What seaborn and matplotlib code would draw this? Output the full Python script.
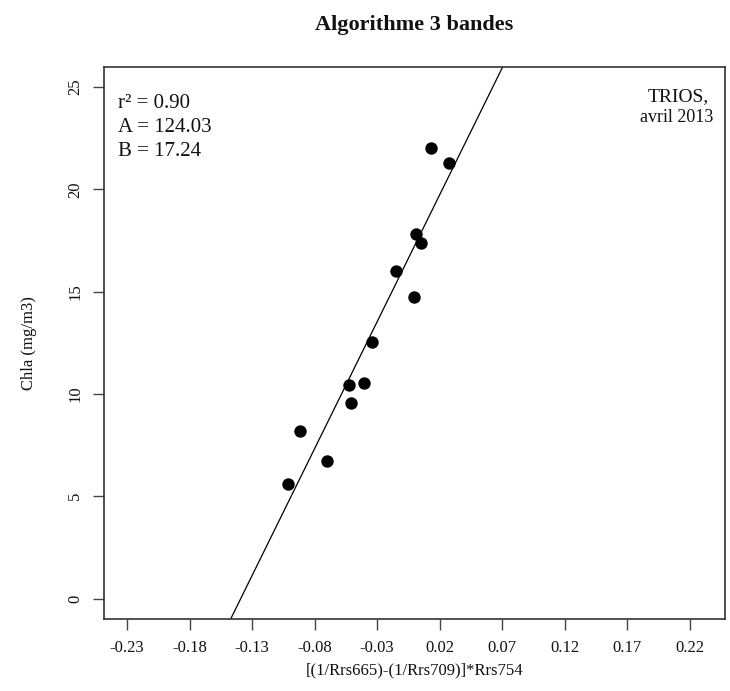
import matplotlib
matplotlib.use("Agg")
import matplotlib.pyplot as plt
import seaborn as sns
import pandas as pd

# Data
x_index = [0.0130, 0.0277, 0.0010, 0.0050, -0.0150, -0.0001, -0.0342,
           -0.0523, -0.0401, -0.0507, -0.0918, -0.0702, -0.1014]
chla = [22.04, 21.27, 17.84, 17.39, 16.03, 14.72, 12.52,
        10.44, 10.55, 9.54, 8.19, 6.70, 5.62]
A_coef = 124.03
B_coef = 17.24
r2 = 0.90
x_ticks = [-0.23, -0.18, -0.13, -0.08, -0.03, 0.02, 0.07, 0.12, 0.17, 0.22]
y_ticks = [0, 5, 10, 15, 20, 25]

df = pd.DataFrame({"x": x_index, "chla": chla})

sns.set_theme(style="white")
plt.rcParams["font.family"] = ["Liberation Serif", "DejaVu Serif"]

W, H = 730, 691
fig = plt.figure(figsize=(W / 100, H / 100), dpi=100)
left, right, top, bottom = 104, 725, 66.7, 619
ax = fig.add_axes([left / W, 1 - bottom / H, (right - left) / W, (bottom - top) / H])

sns.scatterplot(data=df, x="x", y="chla", color="black", s=80,
                edgecolor="black", linewidth=0, ax=ax, zorder=3)
ax.axline((0, B_coef), slope=A_coef, color="black", lw=0.9, zorder=2)

ax.set_xlim(-0.2484, 0.2484)
ax.set_ylim(-1, 26)
ax.set_xticks(x_ticks)
ax.set_xticklabels([f"{v:.2f}" for v in x_ticks])
ax.set_yticks(y_ticks)
ax.set_yticklabels([str(v) for v in y_ticks])

for sp in ax.spines.values():
    sp.set_color("#333333")
    sp.set_linewidth(1.2)

ax.tick_params(axis="both", direction="out", length=8, width=1,
               color="#444444", labelcolor="#111111", labelsize=12, pad=7,
               bottom=True, left=True)
ax.tick_params(axis="y", labelrotation=90)
for lab in ax.get_yticklabels():
    lab.set_va("center")

ax.set_xlabel("[(1/Rrs665)-(1/Rrs709)]*Rrs754", fontsize=12, color="#111111")
ax.set_ylabel("Chla (mg/m3)", fontsize=12, color="#111111")
ax.xaxis.set_label_coords(0.5, (bottom - 670) / (bottom - top))
ax.xaxis.label.set_va("center")
ax.yaxis.set_label_coords((29 - left) / (right - left), 0.5)
ax.yaxis.label.set_va("center")

fig.text(414.5 / W, 1 - 25 / H, "Algorithme 3 bandes", ha="center", va="center",
         fontsize=16, fontweight="bold", color="#111111")

def ypos(py):
    return 1 - (py - top) / (bottom - top)

ax.text(0.023, ypos(103), f"r\u00b2 = {r2:.2f}", transform=ax.transAxes,
        fontsize=15, va="center", ha="left", color="#111111")
ax.text(0.023, ypos(127), f"A = {A_coef:.2f}", transform=ax.transAxes,
        fontsize=15, va="center", ha="left", color="#111111")
ax.text(0.023, ypos(151), f"B = {B_coef:.2f}", transform=ax.transAxes,
        fontsize=15, va="center", ha="left", color="#111111")

ax.text((678 - left) / (right - left), ypos(97), "TRIOS,",
        transform=ax.transAxes, fontsize=14, ha="center", va="center", color="#111111")
ax.text((677 - left) / (right - left), ypos(118), "avril 2013",
        transform=ax.transAxes, fontsize=13, ha="center", va="center", color="#111111")

fig.savefig("out.png", dpi=100, facecolor="white")
